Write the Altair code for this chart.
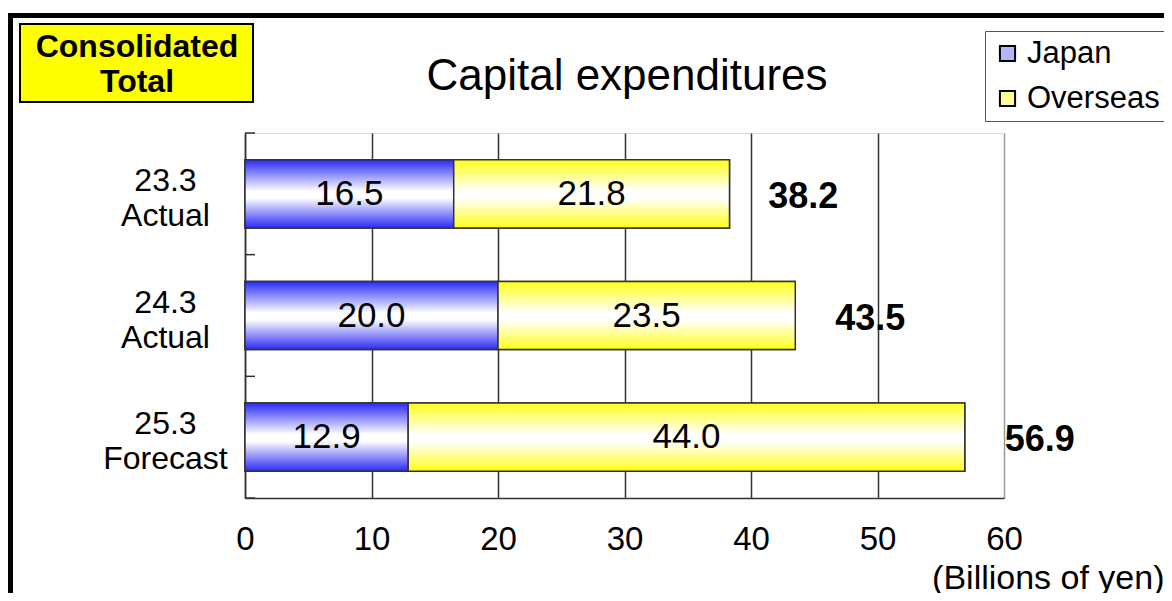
import altair as alt
import pandas as pd

FONT = "Liberation Sans"

categories = ["23.3 Actual", "24.3 Actual", "25.3 Forecast"]
series_names = ["Japan", "Overseas"]
japan = [16.5, 20.0, 12.9]
overseas = [21.8, 23.5, 44.0]
totals = [38.2, 43.5, 56.9]
x_ticks = [0, 10, 20, 30, 40, 50, 60]
chart_title = ["Capital expenditures"]
badge_text = ["Consolidated\nTotal"]
unit_label = "(Billions of yen)"

PAD_INNER = 0.44

rows = []
for c, j, o in zip(categories, japan, overseas):
    rows.append({"cat": c, "series": "Japan", "start": 0.0, "end": j, "value": j})
    rows.append({"cat": c, "series": "Overseas", "start": j, "end": j + o, "value": o})
seg = pd.DataFrame(rows)
seg["mid"] = (seg["start"] + seg["end"]) / 2
tot = pd.DataFrame({"cat": categories, "total": totals})
cats = pd.DataFrame({"cat": categories})

x_axis = alt.Axis(
    values=x_ticks, format="d", title=unit_label,
    titleFontSize=34, titleFont=FONT, titleFontWeight="normal", titleColor="black",
    titleX=919, titleY=90, titleAlign="right", titleBaseline="alphabetic",
    labelFontSize=33, labelFont=FONT, labelColor="black", labelPadding=25,
    labelFlush=False, ticks=False, tickSize=0,
    grid=True, gridWidth=1.5,
    gridColor={"condition": {"test": "datum.value === 60", "value": "#9a9a9a"}, "value": "#333333"},
    domainColor="#333333", domainWidth=1.5,
)
y_axis = alt.Axis(
    title=None, labelExpr="split(datum.label, ' ')", labelAlign="center",
    labelPadding=80, labelOffset=-13, ticks=False, tickSize=0, labelFontSize=32,
    labelFont=FONT, labelLineHeight=35, labelColor="black",
    domainColor="#333333", domainWidth=1.5, grid=False,
)
x_scale = alt.Scale(domain=[0, 60], nice=False, zero=True)
y_scale = alt.Scale(paddingInner=PAD_INNER, paddingOuter=PAD_INNER / 2)


def X(field):
    return alt.X(field, type="quantitative", scale=x_scale, axis=x_axis)


def Y():
    return alt.Y("cat:N", sort=categories, scale=y_scale, axis=y_axis)


def grad(edge):
    return alt.LinearGradient(
        gradient="linear",
        stops=[
            alt.GradientStop(color=edge, offset=0),
            alt.GradientStop(color="#ffffff", offset=0.46),
            alt.GradientStop(color="#ffffff", offset=0.56),
            alt.GradientStop(color=edge, offset=1),
        ],
        x1=0, x2=0, y1=0, y2=1,
    )


base = alt.Chart(seg)

legend_bars = base.mark_bar(stroke="#333333", strokeWidth=1.5).encode(
    x=X("start"), x2="end", y=Y(),
    fill=alt.Fill(
        "series:N",
        scale=alt.Scale(domain=series_names, range=["#b4b4ff", "#ffff99"]),
        legend=alt.Legend(
            title=None, orient="none", legendX=740, legendY=-102, padding=7,
            strokeColor="#555555", fillColor="white",
            labelFontSize=31, labelFont=FONT, labelColor="black", labelOffset=4,
            symbolType="square", symbolSize=230, symbolStrokeColor="black",
            symbolStrokeWidth=2, rowPadding=13,
        ),
    ),
)

japan_bars = base.transform_filter(alt.datum.series == "Japan").mark_bar(
    fill=grad("#2a2af5"), stroke="#333333", strokeWidth=1.5
).encode(x=X("start"), x2="end", y=Y())

overseas_bars = base.transform_filter(alt.datum.series == "Overseas").mark_bar(
    fill=grad("#ffff1a"), stroke="#333333", strokeWidth=1.5
).encode(x=X("start"), x2="end", y=Y())

seg_labels = base.mark_text(
    font=FONT, fontSize=35, color="black", align="center", baseline="middle"
).encode(x=X("mid"), y=Y(), text=alt.Text("value:Q", format=".1f"))

tot_labels = alt.Chart(tot).mark_text(
    font=FONT, fontSize=36, fontWeight="bold", color="black",
    align="left", baseline="middle", dx=40, dy=3
).encode(x=X("total"), y=Y(), text=alt.Text("total:Q", format=".1f"))

main = alt.layer(legend_bars, japan_bars, overseas_bars, seg_labels, tot_labels)

# small inward category-boundary ticks on the left axis (unpadded band scale)
edge_scale = alt.Scale(domain=categories, paddingInner=0, paddingOuter=0)
top_ticks = alt.Chart(cats).mark_rule(color="#333333", strokeWidth=1.5).encode(
    y=alt.Y("cat:N", scale=edge_scale, axis=None, bandPosition=0),
    x=alt.value(0), x2=alt.value(10),
)
bottom_tick = alt.Chart(cats).transform_filter(
    alt.datum.cat == categories[-1]
).mark_rule(color="#333333", strokeWidth=1.5).encode(
    y=alt.Y("cat:N", scale=edge_scale, axis=None, bandPosition=1),
    x=alt.value(0), x2=alt.value(10),
)
ticks_layer = alt.layer(top_ticks, bottom_tick)

title_text = alt.Chart(pd.DataFrame({"t": chart_title})).mark_text(
    font=FONT, fontSize=44, color="black", align="center", baseline="alphabetic"
).encode(x=alt.value(382), y=alt.value(-43), text="t:N")

frame = alt.Chart(pd.DataFrame({"t": chart_title})).mark_rect(
    fill=None, stroke="black", strokeWidth=5
).encode(x=alt.value(-234.5), x2=alt.value(1400), y=alt.value(-117.5), y2=alt.value(900))

badge_box = alt.Chart(pd.DataFrame({"t": badge_text})).mark_rect(
    fill="#ffff00", stroke="black", strokeWidth=2
).encode(x=alt.value(-225), x2=alt.value(8), y=alt.value(-109), y2=alt.value(-31))

badge_label = alt.Chart(pd.DataFrame({"t": badge_text})).mark_text(
    font=FONT, fontSize=32, fontWeight="bold", color="black",
    align="center", baseline="alphabetic", lineBreak="\n", lineHeight=35
).encode(x=alt.value(-108), y=alt.value(-76), text="t:N")

chart = alt.layer(
    main, ticks_layer, title_text, frame, badge_box, badge_label,
).resolve_scale(
    y="independent"
).properties(
    width=759, height=365,
    autosize=alt.AutoSizeParams(type="none"),
    padding={"left": 237, "top": 125, "right": 160, "bottom": 95},
).configure_view(
    stroke="#9a9a9a", strokeWidth=1.5
).configure(background="white")

chart.save("out.html", embed_options={"renderer": "svg", "actions": False})
